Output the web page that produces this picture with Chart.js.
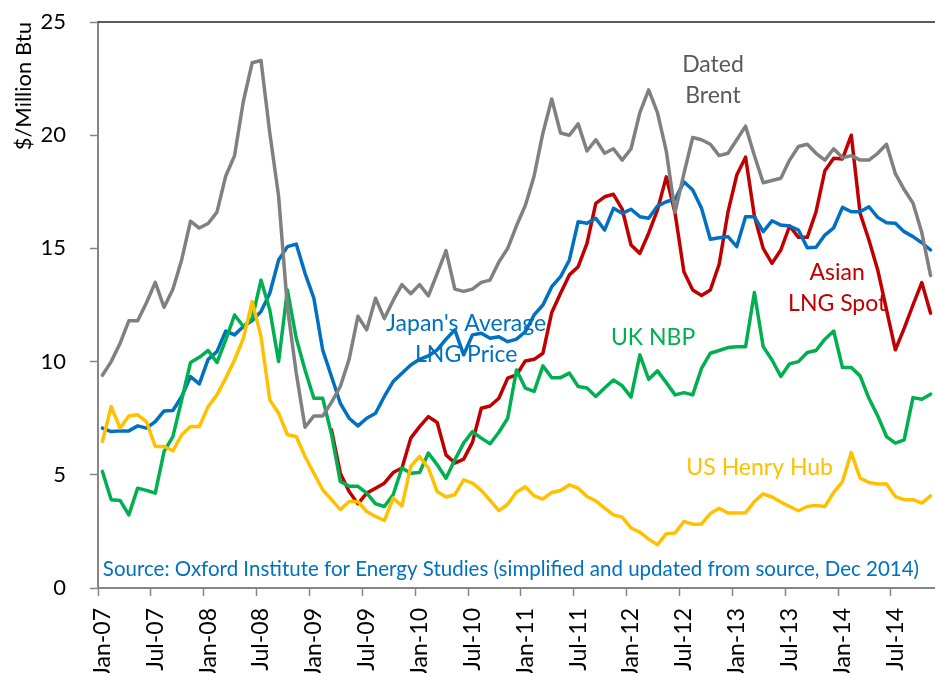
<!DOCTYPE html>
<html>
<head>
<meta charset="utf-8">
<script src="https://cdn.jsdelivr.net/npm/chart.js@4.4.1/dist/chart.umd.min.js"></script>
<style>
  body { margin: 0; background: #fff; }
  #wrap { width: 935px; height: 673px; }
</style>
</head>
<body>
<div id="wrap"><canvas id="lngChart" width="935" height="673"></canvas></div>
<script>
// months Jan-07 .. Nov-14
const monthNames = ['Jan', 'Feb', 'Mar', 'Apr', 'May', 'Jun', 'Jul', 'Aug', 'Sep', 'Oct', 'Nov', 'Dec'];
const years = ['07', '08', '09', '10', '11', '12', '13', '14'];
const lastYearMonths = 11;

const datedBrent = [
  9.4, 10.0, 10.8, 11.8, 11.8, 12.6, 13.5, 12.4, 13.2, 14.5, 16.2, 15.9,
  16.1, 16.6, 18.2, 19.1, 21.5, 23.2, 23.3, 20.1, 17.3, 12.4, 9.5, 7.1,
  7.6, 7.6, 8.2, 8.9, 10.1, 12.0, 11.4, 12.8, 11.9, 12.7, 13.4, 13.0,
  13.4, 12.9, 13.9, 14.9, 13.2, 13.1, 13.2, 13.5, 13.6, 14.4, 15.0, 16.0,
  16.9, 18.2, 20.1, 21.6, 20.1, 20.0, 20.5, 19.3, 19.8, 19.2, 19.4, 18.9,
  19.4, 21.0, 22.0, 21.0, 19.3, 16.6, 18.3, 19.9, 19.8, 19.6, 19.1, 19.2,
  19.8, 20.4, 19.1, 17.9, 18.0, 18.1, 18.9, 19.5, 19.6, 19.2, 18.9, 19.4,
  19.0, 19.1, 18.9, 18.9, 19.2, 19.6, 18.3, 17.6, 17.0, 15.7, 13.8
];

const japanLng = [
  7.06, 6.91, 6.94, 6.94, 7.16, 7.06, 7.35, 7.82, 7.84, 8.46, 9.34, 9.02,
  10.1, 10.44, 11.35, 11.18, 11.55, 11.81, 12.21, 13.02, 14.49, 15.08, 15.19, 13.9,
  12.8, 10.52, 9.34, 8.16, 7.5, 7.16, 7.5, 7.72, 8.46, 9.12, 9.49, 9.85,
  10.1, 10.25, 10.52, 10.99, 11.4, 10.3, 11.18, 11.25, 11.03, 11.1, 10.88, 10.99,
  11.32, 12.06, 12.5, 13.31, 13.75, 14.49, 16.18, 16.11, 16.33, 15.81, 16.77, 16.55,
  16.73, 16.4, 16.33, 16.87, 17.06, 17.17, 17.94, 17.58, 16.77, 15.4, 15.47, 15.52,
  15.08, 16.4, 16.4, 15.74, 16.22, 16.03, 15.99, 15.81, 15.03, 15.05, 15.59, 15.91,
  16.81, 16.62, 16.62, 16.84, 16.37, 16.13, 16.11, 15.74, 15.52, 15.25, 14.93
];

const ukNbp = [
  5.15, 3.9, 3.87, 3.23, 4.41, 4.31, 4.19, 6.03, 6.69, 8.31, 9.96, 10.19,
  10.49, 9.96, 10.96, 12.06, 11.55, 11.9, 13.6, 12.28, 10.0, 13.16, 11.03, 9.63,
  8.38, 8.38, 6.8, 4.71, 4.49, 4.49, 4.19, 3.72, 3.6, 4.12, 5.3, 5.07,
  5.1, 5.96, 5.44, 4.85, 5.66, 6.4, 6.91, 6.62, 6.37, 6.88, 7.5, 9.63,
  8.83, 8.68, 9.81, 9.29, 9.29, 9.49, 8.9, 8.83, 8.46, 8.83, 9.19, 8.93,
  8.43, 10.3, 9.22, 9.59, 9.07, 8.53, 8.63, 8.53, 9.7, 10.37, 10.49, 10.62,
  10.66, 10.66, 13.05, 10.66, 10.07, 9.34, 9.9, 10.0, 10.4, 10.49, 10.99, 11.35,
  9.74, 9.74, 9.37, 8.38, 7.6, 6.69, 6.4, 6.54, 8.41, 8.34, 8.56
];

const usHenryHub = [
  6.47, 8.01, 7.06, 7.6, 7.65, 7.35, 6.25, 6.25, 6.06, 6.77, 7.13, 7.13,
  8.01, 8.53, 9.27, 10.07, 11.03, 12.65, 11.1, 8.31, 7.72, 6.77, 6.69, 5.81,
  5.07, 4.34, 3.9, 3.46, 3.82, 3.82, 3.38, 3.16, 2.98, 3.97, 3.63, 5.37,
  5.81, 5.3, 4.26, 4.02, 4.12, 4.78, 4.63, 4.31, 3.87, 3.42, 3.7, 4.24,
  4.47, 4.07, 3.93, 4.22, 4.31, 4.56, 4.41, 4.04, 3.85, 3.53, 3.23, 3.13,
  2.65, 2.47, 2.16, 1.91, 2.4, 2.43, 2.94, 2.82, 2.83, 3.29, 3.52, 3.31,
  3.31, 3.32, 3.82, 4.16, 4.02, 3.8, 3.6, 3.41, 3.6, 3.65, 3.6, 4.22,
  4.7, 5.98, 4.85, 4.66, 4.59, 4.59, 4.04, 3.9, 3.9, 3.75, 4.07
];

// Asian LNG spot starts Mar-09
const asianSpot = [
  null, null, null, null, null, null, null, null, null, null, null, null,
  null, null, null, null, null, null, null, null, null, null, null, null,
  null, null, 6.99, 5.07, 4.26, 3.72, 4.19, 4.41, 4.63, 5.1, 5.3, 6.62,
  7.13, 7.57, 7.31, 5.88, 5.52, 5.69, 6.43, 7.94, 8.04, 8.38, 9.27, 9.41,
  10.03, 10.1, 10.37, 12.17, 13.02, 13.83, 14.19, 15.22, 16.99, 17.28, 17.39, 16.73,
  15.15, 14.78, 15.67, 16.7, 18.16, 16.55, 13.97, 13.16, 12.92, 13.16, 14.3, 16.6,
  18.24, 19.03, 16.43, 15.0, 14.34, 14.93, 15.99, 15.49, 15.49, 16.62, 18.43, 18.98,
  18.95, 20.0, 16.55, 15.37, 14.05, 12.28, 10.52, 11.47, 12.5, 13.49, 12.14
];

const yTicks = [0, 5, 10, 15, 20, 25];

const labels = [];
years.forEach((yr, k) => {
  const n = k === years.length - 1 ? lastYearMonths : 12;
  for (let m = 0; m < n; m++) labels.push(monthNames[m] + '-' + yr);
});

const fontFamily = 'Lato, "Open Sans", sans-serif';
const axisGray = '#868686';

// text labels placed in data coordinates (category index, $/MMBtu)
const notes = [
  { lines: ['Dated', 'Brent'], x: 69.3, y: 23.1, color: '#595959', size: 23, gap: 30.5, align: 'center' },
  { lines: ["Japan's Average", 'LNG Price'], x: 41.3, y: 11.7, color: '#0070C0', size: 23, gap: 31, align: 'center' },
  { lines: ['UK NBP'], x: 62.5, y: 11.05, color: '#00B050', size: 23, gap: 0, align: 'center' },
  { lines: ['Asian', 'LNG Spot'], x: 83.4, y: 13.95, color: '#C00000', size: 23, gap: 31, align: 'center' },
  { lines: ['US Henry Hub'], x: 74.6, y: 5.3, color: '#FFC000', size: 23, gap: 0, align: 'center' },
  { lines: ['Source: Oxford Institute for Energy Studies (simplified and updated from source, Dec 2014)'],
    x: 0.05, y: 0.8, color: '#0070C0', size: 20.5, gap: 0, align: 'left' }
];

const notesPlugin = {
  id: 'notes',
  afterDatasetsDraw(chart) {
    const { ctx, chartArea, scales } = chart;
    ctx.save();
    ctx.strokeStyle = '#262626';
    ctx.lineWidth = 1.5;
    ctx.beginPath();
    ctx.moveTo(chartArea.left, chartArea.top);
    ctx.lineTo(chartArea.right, chartArea.top);
    ctx.stroke();
    notes.forEach(n => {
      ctx.font = n.size + 'px ' + fontFamily;
      ctx.fillStyle = n.color;
      ctx.textAlign = n.align;
      ctx.textBaseline = 'middle';
      const px = scales.x.getPixelForValue(n.x);
      const py = scales.y.getPixelForValue(n.y);
      n.lines.forEach((line, k) => ctx.fillText(line, px, py + k * n.gap));
    });
    ctx.restore();
  }
};

const lineStyle = {
  borderWidth: 3.5,
  pointRadius: 0,
  tension: 0,
  fill: false,
  borderJoinStyle: 'round',
  borderCapStyle: 'round'
};

new Chart(document.getElementById('lngChart'), {
  type: 'line',
  data: {
    labels,
    datasets: [
      { ...lineStyle, label: 'Dated Brent', data: datedBrent, borderColor: '#808080' },
      { ...lineStyle, label: 'US Henry Hub', data: usHenryHub, borderColor: '#FFC000' },
      { ...lineStyle, label: 'UK NBP', data: ukNbp, borderColor: '#00B050' },
      { ...lineStyle, label: "Japan's Average LNG Price", data: japanLng, borderColor: '#0070C0' },
      { ...lineStyle, label: 'Asian LNG Spot', data: asianSpot, borderColor: '#C00000' }
    ]
  },
  options: {
    responsive: false,
    animation: false,
    layout: { padding: { top: 22, right: 0, bottom: 0, left: 0 } },
    plugins: {
      legend: { display: false },
      tooltip: { enabled: false }
    },
    scales: {
      x: {
        offset: true,
        grid: {
          offset: true,
          drawOnChartArea: false,
          tickLength: 8,
          tickWidth: 1.5,
          tickColor: ctx => (ctx.index % 6 === 0 ? axisGray : 'rgba(0,0,0,0)')
        },
        border: { color: axisGray, width: 2 },
        ticks: {
          autoSkip: false,
          minRotation: 90,
          maxRotation: 90,
          padding: 12,
          color: '#000',
          font: { family: fontFamily, size: 23 },
          callback: function (value, index) {
            return index % 6 === 0 ? this.getLabelForValue(value) : '';
          }
        },
        afterFit: scale => {
          scale.height = 85;
          scale.paddingLeft = 0;
          scale.paddingRight = 0;
        }
      },
      y: {
        min: 0,
        max: 25,
        afterBuildTicks: scale => { scale.ticks = yTicks.map(v => ({ value: v })); },
        grid: {
          drawOnChartArea: false,
          tickLength: 8,
          tickWidth: 1.5,
          tickColor: axisGray
        },
        border: { color: axisGray, width: 2 },
        ticks: {
          padding: 24,
          color: '#000',
          font: { family: fontFamily, size: 22 }
        },
        title: {
          display: true,
          text: '$/Million Btu',
          align: 'end',
          color: '#000',
          font: { family: fontFamily, size: 22 },
          padding: { top: 11, bottom: 0 }
        },
        afterFit: scale => {
          scale.width = 98;
          scale.paddingTop = 0;
          scale.paddingBottom = 0;
        }
      }
    }
  },
  plugins: [notesPlugin]
});
</script>
</body>
</html>
